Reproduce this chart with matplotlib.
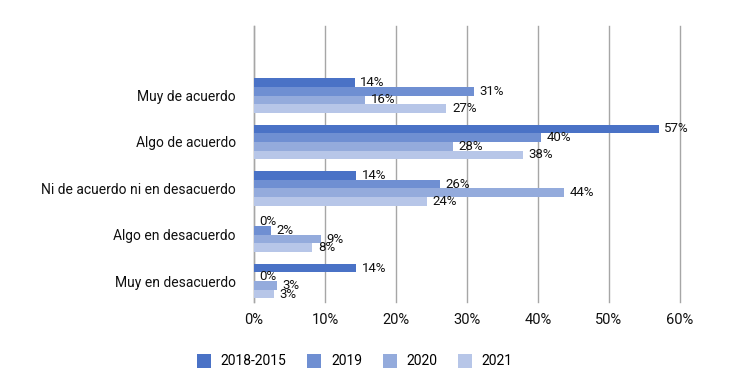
import matplotlib
matplotlib.use("Agg")
import matplotlib.pyplot as plt
import numpy as np

plt.rcParams['font.family'] = ["Roboto", "DejaVu Sans"]

categories = ["Muy de acuerdo", "Algo de acuerdo", "Ni de acuerdo ni en desacuerdo",
              "Algo en desacuerdo", "Muy en desacuerdo"]
series = ["2018-2015", "2019", "2020", "2021"]
v_2018_2015 = [14.2, 57.0, 14.4, 0.0, 14.4]
v_2019 = [31.0, 40.4, 26.2, 2.4, 0.0]
v_2020 = [15.7, 28.0, 43.7, 9.4, 3.2]
v_2021 = [27.1, 37.9, 24.3, 8.2, 2.8]
values = [v_2018_2015, v_2019, v_2020, v_2021]
colors = ["#4a72c6", "#6f8fd2", "#94abdc", "#b7c6e8"]
xticks = [0, 10, 20, 30, 40, 50, 60]

fig = plt.figure(figsize=(7.38, 3.84), dpi=100)
ax = fig.add_axes([254/738, 1-302/384, (680-254)/738, (302-26)/384])

h = 0.187
y = np.arange(len(categories))
for i, (s, vals, c) in enumerate(zip(series, values, colors)):
    pos = y + (i - 1.5) * h
    ax.barh(pos, vals, height=h, color=c, label=s, zorder=3)
    for p, v in zip(pos, vals):
        ax.annotate(f"{round(v):d}%", (v, p), xytext=(4, 0), textcoords="offset points",
                    va="center", ha="left", fontsize=9.5, color="#111111", zorder=4)

ax.set_xlim(0, 60)
ax.set_ylim(4.45, -1.5)
ax.set_xticks(xticks)
ax.set_xticklabels([f"{t}%" for t in xticks], fontsize=10.5)
ax.set_yticks(y)
ax.set_yticklabels(categories, fontsize=10)
ax.tick_params(axis="both", length=0, colors="#111111")
ax.tick_params(axis="y", pad=13)
ax.tick_params(axis="x", pad=8)
ax.xaxis.grid(True, color="#a6a6a6", linewidth=1, zorder=0)
for gl in ax.get_xgridlines():
    gl.set_clip_on(False)
for sp in ["top", "right", "bottom"]:
    ax.spines[sp].set_visible(False)
ax.spines["left"].set_color("#a6a6a6")
ax.spines["left"].set_linewidth(1)

fig.legend(loc="center", bbox_to_anchor=(355/738, 1-361/384), ncol=4, frameon=False,
           fontsize=10, handlelength=1.0, handleheight=1.2, columnspacing=1.5,
           handletextpad=0.7)

fig.savefig("out.png", dpi=100)
